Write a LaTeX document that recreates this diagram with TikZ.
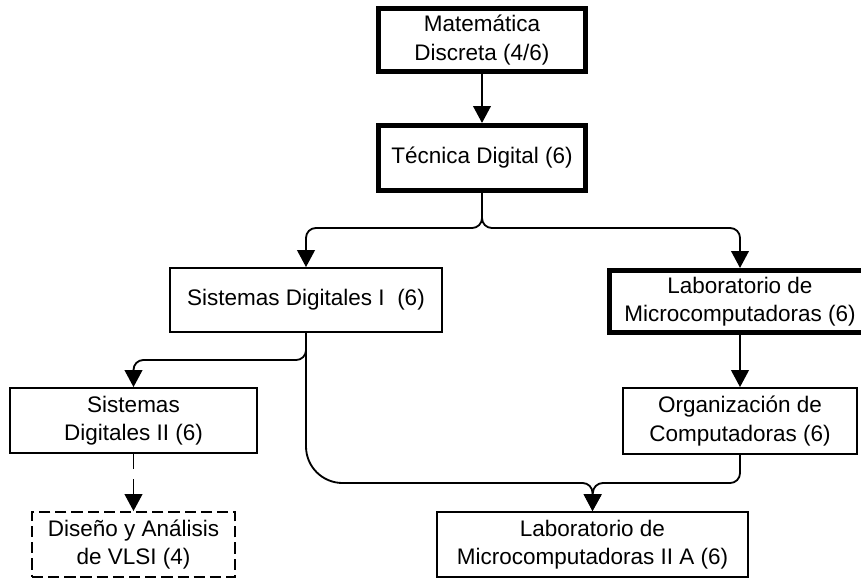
\documentclass[tikz,border=0pt]{standalone}
\usepackage{fontspec}
\setmainfont{Liberation Sans}
\usetikzlibrary{arrows.meta,calc}

\begin{document}
\begin{tikzpicture}[x=0.025cm,y=-0.025cm,
		course/.style={draw=black,line width=1.3pt,align=center,inner sep=0pt,font=\fontsize{16}{20}\selectfont},
		core/.style={course,line width=3.6pt},
		optional/.style={course,dash pattern=on 8pt off 3.5pt},
		link/.style={line width=1.3pt,rounded corners=7pt,-{Triangle[length=12pt,width=12.5pt]}}]
		
		\useasboundingbox (0,0) rectangle (861,579);
		
		\node[core,minimum width=5.175cm,minimum height=1.575cm] (mat) at (482,40) {Matemática\\Discreta (4/6)};
		
		\node[core,minimum width=5.175cm,minimum height=1.625cm] (tec) at (482,158) {Técnica Digital (6)};
		
		\node[course,minimum width=6.8cm,minimum height=1.6cm] (sdi) at (306,300) {Sistemas Digitales I~ (6)};
		\node[core,minimum width=6.525cm,minimum height=1.55cm] (lab) at (740,301.5) {Laboratorio de\\Microcomputadoras (6)};
		
		\node[course,minimum width=6.175cm,minimum height=1.625cm] (sdii) at (133.5,420.5) {Sistemas\\Digitales II (6)};
		\node[course,minimum width=5.85cm,minimum height=1.65cm] (org) at (740,421) {Organización de\\Computadoras (6)};
		
		\node[optional,minimum width=5.075cm,minimum height=1.625cm] (vlsi) at (133.5,544.5) {Diseño y Análisis\\de VLSI (4)};
		\node[course,minimum width=7.775cm,minimum height=1.625cm] (labii) at (592.5,544.5) {Laboratorio de\\Microcomputadoras II A (6)};
		
		\coordinate (split) at (482,228);
		\coordinate (sdisplit) at (306,360);
		\coordinate (merge) at (593,483);
		
		\draw[link] (mat) -- (tec);
		\draw[link] (tec.south) -- (split) -| (sdi.north);
		\draw[link] (tec.south) -- (split) -| (lab.north);
		\draw[link] (sdi.south) -- (sdisplit) -| (sdii.north);
		\draw[link,-] (sdi.south) [rounded corners=26pt] |- ($(merge)+(-20,0)$);
		\draw[link] ($(merge)+(-21,0)$) -| (labii.north);
		\draw[link] (lab) -- (org);
		\draw[link] (org.south) |- (merge) -- (labii.north);
		\draw[link,dash pattern=on 11pt off 7pt] (sdii) -- (vlsi);
	\end{tikzpicture}
\end{document}
